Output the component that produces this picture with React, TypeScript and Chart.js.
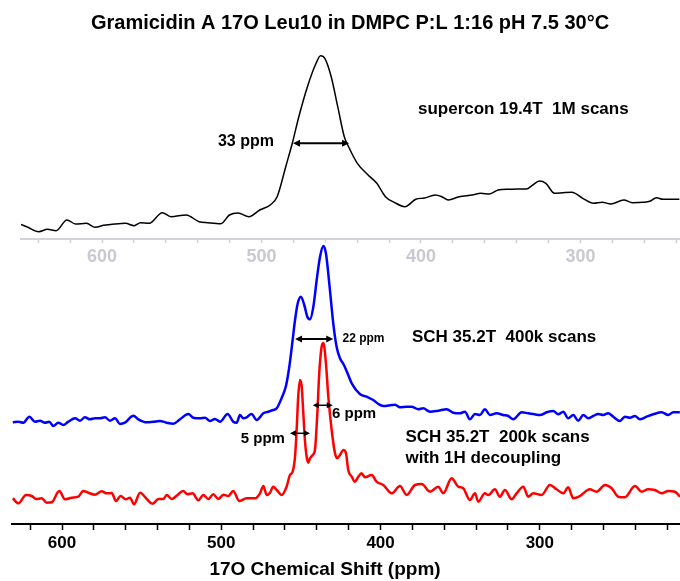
import React, { useEffect, useRef } from "react";
import { Chart, registerables } from "chart.js";
Chart.register(...registerables);

const FONT = "'Liberation Sans', Arial, Helvetica, sans-serif";

const TITLE = "Gramicidin A 17O Leu10 in DMPC P:L 1:16 pH 7.5 30°C";
const AXIS_TITLE = "17O Chemical Shift (ppm)";

// Top spectrum (supercon 19.4T), ppm on the upper (gray) axis
const TOP_PPM = [651.1, 646.5, 639.7, 634.2, 628.8, 622.0, 616.6, 609.8, 604.3, 598.9, 592.1, 585.3, 579.9, 575.8, 570.4, 562.2, 556.8, 547.3, 539.1, 533.7, 525.5, 520.1, 514.7, 507.9, 501.1, 494.3, 490.2, 484.8, 480.7, 476.6, 471.2, 465.8, 463.0, 460.3, 456.3, 452.2, 448.1, 445.4, 439.9, 433.2, 427.7, 422.3, 416.8, 410.1, 403.3, 397.8, 391.0, 387.0, 382.9, 376.1, 367.9, 362.5, 357.1, 351.6, 344.8, 339.4, 334.0, 329.9, 325.8, 321.7, 316.3, 310.9, 305.4, 298.6, 291.8, 286.4, 281.0, 272.8, 267.4, 260.6, 256.5, 252.4, 248.4, 242.9, 238.0];
const TOP_INT = [14.7, 11.7, 7.3, 9.7, 8.3, 19, 15, 15.7, 11.7, 13.7, 15, 15.7, 13.3, 16.3, 15.7, 26.3, 22.3, 24, 17.3, 16.3, 15.3, 24, 26, 22.3, 29, 34.3, 42.3, 72.3, 95.7, 122.3, 152.3, 175.7, 183.3, 180.7, 162.3, 132.3, 102.3, 92.3, 75.7, 64, 55.7, 42.3, 36.7, 32.3, 39.7, 41, 44, 42.3, 39, 42.3, 44, 45.7, 45, 49, 49.7, 50, 50, 54, 58, 55.7, 45.7, 46.3, 46.7, 40.7, 35.7, 36.7, 35, 39, 36.3, 36.7, 37.7, 41.3, 39.7, 39.7, 39.7];

// SCH 35.2T 400k scans (blue)
const BLUE_PPM = [630.9, 627.4, 624.3, 620.5, 617.0, 613.8, 610.7, 608.0, 605.5, 602.3, 599.2, 596.0, 591.8, 588.7, 585.6, 582.4, 579.3, 576.1, 573.0, 569.9, 566.7, 563.6, 560.5, 555.2, 552.1, 546.8, 542.7, 538.5, 534.3, 530.1, 525.9, 520.7, 517.6, 513.4, 510.2, 507.1, 504.0, 500.8, 496.0, 492.5, 490.3, 488.3, 486.2, 484.1, 481.0, 477.8, 473.6, 470.5, 467.4, 465.2, 462.1, 459.4, 457.3, 455.2, 453.7, 452.0, 450.0, 447.9, 446.0, 444.3, 442.2, 440.1, 438.0, 435.9, 434.3, 432.2, 429.7, 427.6, 425.5, 423.0, 420.3, 418.1, 413.0, 408.7, 404.6, 401.4, 398.3, 393.0, 390.9, 387.8, 383.6, 380.5, 376.3, 373.2, 369.0, 363.8, 358.5, 354.4, 350.2, 347.0, 343.9, 340.7, 337.6, 334.5, 331.3, 327.1, 323.0, 319.8, 316.7, 311.4, 307.3, 304.1, 299.9, 295.7, 291.6, 288.4, 285.3, 282.2, 279.0, 275.9, 272.7, 269.6, 266.5, 263.3, 260.2, 257.1, 253.9, 249.7, 246.6, 243.4, 240.3, 237.2, 233.0, 228.8, 223.5, 219.4, 216.3, 212.1];
const BLUE_INT = [101.7, 102.3, 101.3, 107.3, 102.3, 103.3, 101.3, 102.3, 98, 101.3, 99, 102.3, 105.7, 103.3, 106.7, 104.7, 105.7, 105.7, 106.7, 103.3, 105.7, 100, 101.3, 108.3, 104.7, 101.7, 102.3, 103, 101.3, 100.3, 104.7, 110, 106.3, 105.7, 106.3, 103, 105, 102.3, 110, 102.3, 101.3, 109, 105.7, 106.7, 110, 104, 110.7, 112.3, 114, 115.7, 126, 138, 157.3, 184, 204, 220.7, 227.3, 219, 207.3, 204.7, 217.3, 244, 267.3, 278, 270.7, 240.7, 200.7, 177.3, 165.7, 159, 149, 140.7, 130, 127.3, 124, 120, 118, 119, 119.3, 116.7, 117.3, 117.3, 114.7, 115.7, 112.3, 113.3, 114.7, 111.3, 110.7, 112.3, 104.7, 110, 109, 114.7, 109, 110.7, 109, 108, 104.7, 111.7, 110.7, 110, 109, 111.7, 113, 109.7, 112.3, 105.7, 109, 103.3, 109, 105.7, 108, 110, 109, 110.7, 107.3, 103, 107.3, 106.3, 108, 104.7, 107.3, 109.7, 111.7, 109, 111.7, 111.7];

// SCH 35.2T 200k scans with 1H decoupling (red)
const RED_PPM = [630.9, 627.4, 622.6, 619.0, 616.3, 612.7, 609.6, 606.5, 601.7, 598.1, 593.9, 589.8, 586.6, 583.5, 579.3, 575.1, 571.9, 568.8, 566.1, 563.2, 560.0, 557.3, 554.8, 551.0, 546.8, 543.1, 539.5, 536.4, 534.3, 531.1, 528.0, 523.9, 521.3, 518.0, 514.4, 511.3, 508.2, 505.0, 501.9, 498.7, 495.6, 492.5, 488.7, 484.1, 478.8, 475.7, 473.6, 471.5, 469.4, 467.4, 465.2, 462.1, 459.0, 456.9, 455.2, 453.7, 452.7, 451.7, 450.6, 449.5, 448.5, 447.5, 446.4, 445.4, 444.3, 442.6, 441.2, 439.7, 438.5, 437.0, 435.9, 434.3, 432.8, 430.7, 428.6, 427.2, 425.5, 423.4, 421.7, 420.3, 418.1, 416.1, 414.0, 411.9, 409.8, 405.6, 402.5, 398.3, 393.0, 387.8, 383.6, 378.4, 374.2, 369.0, 363.8, 360.6, 355.4, 351.2, 348.1, 343.9, 340.7, 338.7, 334.5, 332.4, 328.2, 325.1, 321.9, 317.7, 314.6, 310.4, 307.3, 304.1, 298.9, 293.7, 289.5, 285.3, 282.2, 279.0, 274.8, 268.6, 264.4, 259.1, 254.9, 250.8, 246.6, 240.3, 236.1, 232.0, 227.8, 223.5, 219.4, 215.2, 212.0];
const RED_INT = [25.7, 20.7, 29, 28, 25, 25.7, 21.3, 21.7, 33, 24.7, 26.3, 27.3, 33, 31.3, 29.3, 32.7, 30.7, 31, 23, 28, 24.7, 26.3, 19.7, 31.3, 25, 20.3, 25, 25, 29, 25, 28.3, 33, 29.7, 30.7, 23.7, 29, 25, 29.7, 25, 29.3, 28, 33, 23, 25.7, 25.7, 30.7, 38, 29, 31.3, 37.3, 34, 29, 37.3, 49, 52.3, 67.3, 94, 127.3, 144, 137.3, 110.7, 84, 67.3, 61.3, 65.7, 69, 74, 110.7, 150.7, 177.3, 181, 160.7, 127.3, 94, 70.7, 65.7, 69, 74, 70.7, 54, 47.3, 42.3, 47.3, 50.7, 46.7, 49, 42.3, 39, 30.7, 38, 29, 39, 40, 32.3, 37.3, 30.7, 45.7, 37.3, 35.7, 24, 30.7, 22.3, 30.7, 29, 34.7, 27.3, 34, 24.7, 30.7, 37.3, 27.3, 30.7, 29, 39, 34.7, 30.7, 36.7, 25.7, 28, 34.7, 32.3, 39, 35.7, 27.3, 26.7, 38, 32.3, 34.7, 34, 30.7, 33, 32.3, 27.3];

// Axis ticks (ppm)
const TICK_VALUES = [220, 240, 260, 280, 300, 320, 340, 360, 380, 400, 420, 440, 460, 480, 500, 520, 540, 560, 580, 600, 620, 640];
const TICK_LABELS = [300, 400, 500, 600];

type Label = { text: string; x: number; y: number; size: number; align: CanvasTextAlign };
type Arrow = { from: number; to: number; y: number; width: number; head: number };

const TOP_LABELS: Label[] = [
  { text: "supercon 19.4T  1M scans", x: 401.9, y: 130, size: 17, align: "left" },
  { text: "33 ppm", x: 492.2, y: 97, size: 16, align: "right" },
];
const TOP_ARROWS: Arrow[] = [{ from: 480.2, to: 445.1, y: 95.7, width: 2, head: 7 }];

const BOTTOM_LABELS: Label[] = [
  { text: "22 ppm", x: 423.9, y: 185, size: 12, align: "left" },
  { text: "SCH 35.2T  400k scans", x: 380.3, y: 187, size: 17, align: "left" },
  { text: "6 ppm", x: 430.5, y: 110, size: 15, align: "left" },
  { text: "5 ppm", x: 487.8, y: 85, size: 15, align: "left" },
  { text: "SCH 35.2T  200k scans", x: 384.4, y: 86.7, size: 17, align: "left" },
  { text: "with 1H decoupling", x: 384.4, y: 65.7, size: 17, align: "left" },
];
const BOTTOM_ARROWS: Arrow[] = [
  { from: 453.7, to: 429.7, y: 185, width: 2, head: 7 },
  { from: 442.6, to: 430.0, y: 118.7, width: 1.5, head: 6 },
  { from: 456.9, to: 444.3, y: 90.7, width: 1.5, head: 6 },
];

const zip = (xs: number[], ys: number[]) => xs.map((x, i) => ({ x, y: ys[i] }));

function annotationPlugin(labels: Label[], arrows: Arrow[], extra?: (ctx: CanvasRenderingContext2D) => void) {
  return {
    id: "annotations",
    afterDatasetsDraw(chart: any) {
      const ctx: CanvasRenderingContext2D = chart.ctx;
      const xs = chart.scales.x;
      const ys = chart.scales.y;
      ctx.save();
      ctx.fillStyle = "#000";
      ctx.strokeStyle = "#000";
      for (const a of arrows) {
        const x1 = xs.getPixelForValue(a.from);
        const x2 = xs.getPixelForValue(a.to);
        const y = ys.getPixelForValue(a.y);
        const h = a.head;
        ctx.lineWidth = a.width;
        ctx.beginPath();
        ctx.moveTo(x1 + h * 0.6, y);
        ctx.lineTo(x2 - h * 0.6, y);
        ctx.stroke();
        ctx.beginPath();
        ctx.moveTo(x1, y);
        ctx.lineTo(x1 + h, y - h * 0.5);
        ctx.lineTo(x1 + h, y + h * 0.5);
        ctx.closePath();
        ctx.fill();
        ctx.beginPath();
        ctx.moveTo(x2, y);
        ctx.lineTo(x2 - h, y - h * 0.5);
        ctx.lineTo(x2 - h, y + h * 0.5);
        ctx.closePath();
        ctx.fill();
      }
      ctx.textBaseline = "middle";
      for (const l of labels) {
        ctx.font = `bold ${l.size}px ${FONT}`;
        ctx.textAlign = l.align;
        ctx.fillText(l.text, xs.getPixelForValue(l.x), ys.getPixelForValue(l.y));
      }
      if (extra) extra(ctx);
      ctx.restore();
    },
  };
}

function xScale(min: number, max: number, color: string, labelColor: string, height: number, tickLen: number) {
  return {
    type: "linear" as const,
    reverse: true,
    min,
    max,
    afterBuildTicks: (s: any) => {
      s.ticks = TICK_VALUES.filter((v) => v >= min && v <= max).map((v) => ({ value: v }));
    },
    afterFit: (s: any) => {
      s.height = height;
    },
    border: { display: true, color, width: 2 },
    grid: { display: true, drawOnChartArea: false, drawTicks: true, tickLength: tickLen, color, tickWidth: 1.5 },
    ticks: {
      autoSkip: false,
      maxRotation: 0,
      padding: 3,
      color: labelColor,
      font: { family: FONT, size: 17, weight: "bold" as const },
      callback: (v: any) => (TICK_LABELS.includes(Number(v)) ? String(v) : ""),
    },
  };
}

export default function App() {
  const topRef = useRef<HTMLCanvasElement>(null);
  const botRef = useRef<HTMLCanvasElement>(null);

  useEffect(() => {
    const topChart = new Chart(topRef.current!, {
      type: "line",
      data: {
        datasets: [
          {
            data: zip(TOP_PPM, TOP_INT),
            borderColor: "#000",
            borderWidth: 1.5,
            pointRadius: 0,
            cubicInterpolationMode: "monotone",
            fill: false,
          },
        ],
      },
      options: {
        responsive: false,
        animation: false,
        events: [],
        layout: { padding: { left: 21, right: 0, top: 40, bottom: 0 } },
        plugins: { legend: { display: false }, tooltip: { enabled: false }, title: { display: false } },
        scales: {
          x: { ...xScale(237.6, 650.8, "#d2d3da", "#c8c9d2", 36, 4), ticks: { ...xScale(237.6, 650.8, "#d2d3da", "#c8c9d2", 36, 4).ticks, font: { family: FONT, size: 18, weight: "bold" as const } } },
          y: { display: false, min: 0, max: 199 },
        },
      },
      plugins: [
        annotationPlugin(TOP_LABELS, TOP_ARROWS, (ctx) => {
          ctx.font = `bold 20px ${FONT}`;
          ctx.textAlign = "center";
          ctx.textBaseline = "middle";
          ctx.fillStyle = "#000";
          ctx.fillText(TITLE, 350, 23);
        }),
      ],
    } as any);

    const botChart = new Chart(botRef.current!, {
      type: "line",
      data: {
        datasets: [
          {
            data: zip(BLUE_PPM, BLUE_INT),
            borderColor: "#0000ff",
            borderWidth: 2.5,
            pointRadius: 0,
            cubicInterpolationMode: "monotone",
            fill: false,
          },
          {
            data: zip(RED_PPM, RED_INT),
            borderColor: "#ff0000",
            borderWidth: 2.5,
            pointRadius: 0,
            cubicInterpolationMode: "monotone",
            fill: false,
          },
        ],
      },
      options: {
        responsive: false,
        animation: false,
        events: [],
        layout: { padding: { left: 12, right: 0, top: 240, bottom: 0 } },
        plugins: { legend: { display: false }, tooltip: { enabled: false }, title: { display: false } },
        scales: {
          x: xScale(212.0, 631.4, "#000", "#000", 57, 6),
          y: { display: false, min: 0, max: 284 },
        },
      },
      plugins: [
        annotationPlugin(BOTTOM_LABELS, BOTTOM_ARROWS, (ctx) => {
          ctx.font = `bold 19px ${FONT}`;
          ctx.textAlign = "center";
          ctx.textBaseline = "middle";
          ctx.fillStyle = "#000";
          ctx.fillText(AXIS_TITLE, 325, 570);
        }),
      ],
    } as any);

    return () => {
      topChart.destroy();
      botChart.destroy();
    };
  }, []);

  return (
    <div style={{ position: "absolute", left: 0, top: 0, width: 680, height: 581, background: "#fff" }}>
      <canvas ref={topRef} width={680} height={275} style={{ position: "absolute", left: 0, top: 0, width: 680, height: 275 }} />
      <canvas ref={botRef} width={680} height={581} style={{ position: "absolute", left: 0, top: 0, width: 680, height: 581 }} />
    </div>
  );
}
